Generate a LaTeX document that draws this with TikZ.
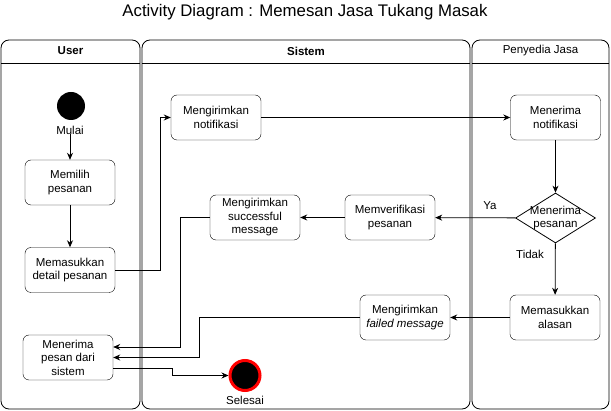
\documentclass[tikz,border=0pt]{standalone}
\usepackage{fontspec}
\setmainfont{Liberation Sans}
\usetikzlibrary{arrows.meta, shapes.geometric}

\tikzset{
  lane/.style={draw, rounded corners=8pt, line width=0.8pt},
  act/.style={draw, rounded corners=6pt, minimum width=90pt, minimum height=45pt, align=center, inner sep=1pt, font=\fontsize{11.5}{13.5}\selectfont},
  flow/.style={-{Stealth[length=7pt,width=6pt]}, line width=0.8pt},
  txt/.style={font=\fontsize{11.5}{13.5}\selectfont, inner sep=0pt},
}

\begin{document}
\begin{tikzpicture}[x=1pt, y=-1pt]
      \useasboundingbox (0,0) rectangle (611,411);
      \node[font=\fontsize{16.8}{19}\selectfont] (judul) at (305,12) {Activity Diagram : Memesan Jasa Tukang Masak};

      % swimlanes
      \draw[lane] (1,40) rectangle (140,409);
      \draw[lane] (142,40) rectangle (470,409);
      \draw[lane] (472,40) rectangle (609,409);
      \draw[line width=0.8pt] (1,63) -- (140,63);
      \draw[line width=0.8pt] (142,63) -- (470,63);
      \draw[line width=0.8pt] (472,63) -- (609,63);
      \node[txt, font=\fontsize{11.5}{13.5}\selectfont\bfseries] (user) at (70.5,51) {User};
      \node[txt, font=\fontsize{11.5}{13.5}\selectfont\bfseries] (sistem) at (306,51) {Sistem};
      \node[txt] (penyedia) at (540.5,51) {Penyedia Jasa};

      % nodes
      \node[circle, fill, inner sep=0pt, minimum size=28pt] (start) at (71,106) {};
      \node[txt] (mulai) at (70,130) {Mulai};
      \node[act] (memilih) at (70,182.5) {Memilih\\pesanan};
      \node[act] (detail) at (70,270) {Memasukkan\\detail pesanan};
      \node[act] (notif) at (216,117.5) {Mengirimkan\\notifikasi};
      \node[act] (terima) at (555.5,117.5) {Menerima\\notifikasi};
      \node[diamond, draw, line width=0.8pt, inner sep=0pt, minimum width=80pt, minimum height=50pt,
            label={[txt, align=center]center:Menerima\\pesanan}] (dec) at (555.5,218) {};
      \node[act] (verif) at (390,217.5) {Memverifikasi\\pesanan};
      \node[act] (sukses) at (255,217.5) {Mengirimkan\\successful\\message};
      \node[act] (alasan) at (555,317.5) {Memasukkan\\alasan};
      \node[act] (gagal) at (405,317.5) {Mengirimkan\\\textit{failed message}};
      \node[act] (pesan) at (68,357.5) {Menerima\\pesan dari\\sistem};
      \node[circle, draw=red, line width=3pt, fill=black, inner sep=0pt, minimum size=30pt] (selesai) at (245,375.5) {};
      \node[txt] (lblselesai) at (245,400) {Selesai};
      \node[txt] (ya) at (490,206) {Ya};
      \node[txt] (tidak) at (530,254) {Tidak};

      % flows
      \draw[flow] (mulai) -- (memilih);
      \draw[flow] (memilih) -- (detail);
      \draw[flow] (detail.east) -- ++(45,0) |- (notif.west);
      \draw[flow] (notif) -- (terima);
      \draw[flow] (terima) -- (dec);
      \draw[flow] (dec) -- (verif);
      \draw[flow] (verif) -- (sukses);
      \draw[flow] (dec) -- (alasan);
      \draw[flow] (alasan) -- (gagal);
      \draw[flow] (sukses.west) -- ++(-29,0) |- ([yshift=10.5pt]pesan.east);
      \draw[flow] (gagal.west) -- ++(-160,0) |- (pesan.east);
      \draw[flow] ([yshift=-10.5pt]pesan.east) -- ++(59,0) |- (selesai.west);
\end{tikzpicture}
\end{document}
